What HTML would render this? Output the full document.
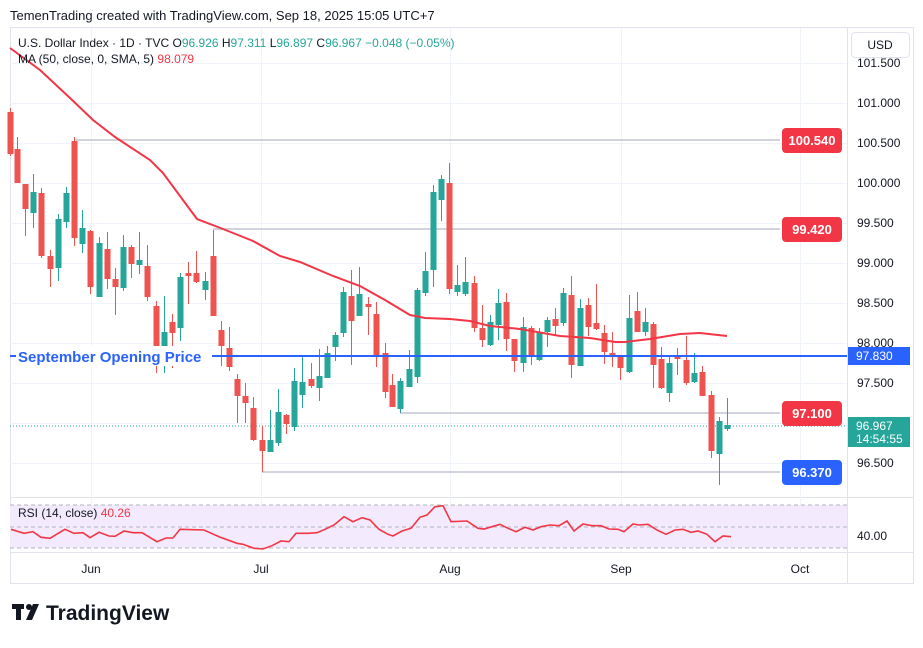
<!DOCTYPE html>
<html><head><meta charset="utf-8"><style>
body{margin:0;width:923px;height:643px;background:#fff;font-family:"Liberation Sans",sans-serif;overflow:hidden}
</style></head><body>
<svg id="s" width="923" height="643" xmlns="http://www.w3.org/2000/svg" font-family="Liberation Sans, sans-serif">
<rect x="0" y="0" width="923" height="643" fill="#fff"/>
<text x="10" y="20" font-size="13" fill="#131722">TemenTrading created with TradingView.com, Sep 18, 2025 15:05 UTC+7</text>
<rect x="10.5" y="27.5" width="903" height="556" fill="none" stroke="#e0e3eb"/>
<line x1="847.5" y1="27" x2="847.5" y2="583" stroke="#e0e3eb"/>
<line x1="10" y1="497.5" x2="913" y2="497.5" stroke="#e0e3eb"/>
<line x1="10" y1="552.5" x2="913" y2="552.5" stroke="#e0e3eb"/>
<g id="grid" stroke="#f0f3fa"></g>
<rect x="10" y="505" width="837" height="43" fill="#f3ebfd"/>
<g stroke="#b2b5be" stroke-dasharray="4,3"><line x1="10" y1="505" x2="847" y2="505"/><line x1="10" y1="527" x2="847" y2="527"/><line x1="10" y1="548" x2="847" y2="548"/></g>
<g stroke="#d1d4dc" stroke-width="2">
<line x1="74" y1="140" x2="780" y2="140"/><line x1="213" y1="229" x2="780" y2="229"/>
<line x1="400" y1="413" x2="780" y2="413"/><line x1="262" y1="472" x2="780" y2="472"/></g>
<line x1="10" y1="426" x2="847" y2="426" stroke="#26a69a" stroke-dasharray="1,2"/>
<g id="c"></g>
<polyline fill="none" stroke="#f23645" stroke-width="2" points="10,48 40,70 70,98 93,120 115,137 150,160 163,173 197,219 223,229 253,241 280,256 300,262 333,276 360,286 385,300 410,315 425,318 450,319 470,321 490,326 520,329 560,336 590,338 615,342 625,342 650,339 680,334 700,333 727,336"/>
<line x1="10" y1="356" x2="847" y2="356" stroke="#2962ff" stroke-width="2"/>
<rect x="16" y="346" width="196" height="20" fill="#fff"/>
<text x="18" y="362" font-size="15" font-weight="bold" fill="#2962ff">September Opening Price</text>
<polyline id="rsi" fill="none" stroke="#f23645" stroke-width="1.6"/>
<text x="18" y="47" font-size="12" fill="#131722">U.S. Dollar Index · 1D · TVC  <tspan>O</tspan><tspan fill="#26a69a">96.926</tspan>  H<tspan fill="#26a69a">97.311</tspan>  L<tspan fill="#26a69a">96.897</tspan>  C<tspan fill="#26a69a">96.967</tspan>  <tspan fill="#26a69a">−0.048 (−0.05%)</tspan></text>
<text x="18" y="63" font-size="12" fill="#131722">MA (50, close, 0, SMA, 5) <tspan fill="#f23645">98.079</tspan></text>
<text x="18" y="517" font-size="12" fill="#131722">RSI (14, close) <tspan fill="#f23645">40.26</tspan></text>
<g font-size="12" fill="#131722" id="px"></g>
<text x="857" y="540" font-size="12" fill="#131722">40.00</text>
<g font-size="12" fill="#131722" text-anchor="middle">
<text x="91" y="573">Jun</text><text x="261" y="573">Jul</text><text x="450" y="573">Aug</text><text x="621" y="573">Sep</text><text x="800" y="573">Oct</text></g>
<rect x="851.5" y="32.5" width="58" height="25" rx="4" fill="#fff" stroke="#e0e3eb"/>
<text x="880" y="49" font-size="12" text-anchor="middle" fill="#131722">USD</text>
<g font-size="13" font-weight="bold" fill="#fff" text-anchor="middle">
<rect x="782" y="128" width="60" height="25" rx="4" fill="#f23645"/><text x="812" y="145">100.540</text>
<rect x="782" y="217" width="60" height="25" rx="4" fill="#f23645"/><text x="812" y="234">99.420</text>
<rect x="782" y="401" width="60" height="25" rx="4" fill="#f23645"/><text x="812" y="418">97.100</text>
<rect x="782" y="460" width="60" height="25" rx="4" fill="#2962ff"/><text x="812" y="477">96.370</text></g>
<g font-size="12" fill="#fff">
<rect x="848" y="347" width="62" height="18" fill="#2962ff"/><text x="856" y="360">97.830</text>
<rect x="848" y="417" width="62" height="30" fill="#26a69a"/><text x="856" y="430">96.967</text><text x="856" y="443">14:54:55</text></g>
<g fill="#131722"><rect x="12" y="604" width="12" height="5"/><rect x="16" y="604" width="5" height="16"/><circle cx="29" cy="607" r="3"/><path d="M33 604 h6 l-7 16 h-6z"/></g>
<text x="46" y="620" font-size="21" font-weight="bold" fill="#131722">TradingView</text>
</svg>
<script>
var ns="http://www.w3.org/2000/svg",s=document.getElementById('s');
function el(p,t,a){var e=document.createElementNS(ns,t);for(var k in a)e.setAttribute(k,a[k]);p.appendChild(e);return e}
var g=document.getElementById('grid');
[63,103,143,183,223,263,303,343,383,423,463].forEach(function(y){el(g,'line',{x1:10,y1:y+.5,x2:847,y2:y+.5})});
[91,261,450,621,800].forEach(function(x){el(g,'line',{x1:x+.5,y1:28,x2:x+.5,y2:552})});
var px=document.getElementById('px');
[["101.500",63],["101.000",103],["100.500",143],["100.000",183],["99.500",223],["99.000",263],["98.500",303],["98.000",343],["97.500",383],["96.500",463]].forEach(function(a){var t=el(px,'text',{x:857,y:a[1]+4});t.textContent=a[0]});
var C=[[10,112,154,108,156,0],[17,149,183,137,183,0],[25,184,209,184,236,0],[33,213,192,174,228,1],[41,193,256,188,258,0],[50,256,269,250,287,0],[58,268,219,214,281,1],[66,222,193,187,228,1],[74,141,238,137,246,0],[82,244,228,210,253,1],[90,231,287,230,294,0],[99,297,243,237,297,1],[107,249,279,232,289,0],[115,279,287,268,315,0],[123,288,247,235,291,1],[131,247,264,245,278,0],[139,265,260,232,274,1],[147,266,297,245,301,0],[156,306,357,301,373,0],[164,359,332,296,373,1],[172,322,333,314,368,0],[180,328,277,273,341,1],[188,273,276,262,304,0],[196,273,282,251,283,0],[205,290,281,272,300,1],[213,256,316,230,316,0],[221,330,346,321,366,0],[229,348,367,327,371,0],[237,379,396,374,423,0],[245,396,403,383,423,0],[253,408,440,397,441,0],[262,440,451,426,472,0],[270,452,440,410,452,1],[278,443,412,389,446,1],[286,415,424,414,434,0],[294,427,381,368,431,1],[302,395,382,356,408,1],[311,379,386,363,388,0],[319,388,376,349,401,1],[327,378,353,346,378,1],[335,347,335,332,361,1],[343,333,292,287,337,1],[351,296,321,270,365,0],[359,316,294,267,316,1],[368,304,307,297,335,0],[376,314,356,302,367,0],[385,353,392,343,398,0],[392,385,407,374,407,0],[400,409,381,378,413,1],[409,387,369,350,387,1],[417,377,290,288,383,1],[425,293,271,252,296,1],[433,270,192,185,287,1],[441,200,179,175,221,1],[449,183,289,163,294,0],[457,292,285,265,296,1],[465,294,282,257,296,1],[474,283,328,276,332,0],[482,328,340,305,347,0],[490,345,322,315,346,1],[498,325,303,289,340,1],[506,302,339,293,351,0],[514,339,361,339,372,0],[523,363,327,317,372,1],[531,328,356,326,365,0],[539,360,332,328,361,1],[547,332,320,317,347,1],[555,319,326,308,336,0],[563,323,293,288,326,1],[571,295,365,276,378,0],[580,366,308,299,366,1],[588,305,327,298,336,0],[596,323,329,284,330,0],[604,333,352,325,364,0],[612,353,355,332,367,0],[620,356,368,356,380,0],[629,372,318,295,373,1],[637,311,332,292,332,0],[645,332,322,308,336,1],[653,324,365,322,388,0],[661,359,388,347,389,0],[669,393,363,357,402,1],[677,357,359,348,375,0],[686,360,383,336,385,0],[694,382,373,353,383,1],[702,372,396,366,396,0],[711,395,451,391,458,0],[719,454,421,417,485,1],[727,429,425,398,431,1]];
var cg=document.getElementById('c');
C.forEach(function(c){var col=c[5]?'#26a69a':'#ef5350';var t=Math.min(c[1],c[2]),b=Math.max(c[1],c[2]);
el(cg,'line',{x1:c[0]+.5,y1:c[3],x2:c[0]+.5,y2:c[4],stroke:col});
el(cg,'rect',{x:c[0]-2.5,y:t,width:6,height:Math.max(b-t,2),fill:col});});
var X=[11,24,33,41,50,65,74,83,90,99,109,115,124,133,142,157,166,173,180,204,219,237,243,254,263,272,281,289,296,308,317,325,334,344,353,362,370,379,388,393,402,411,420,427,435,443,451,467,478,484,492,500,508,516,525,533,541,550,559,567,574,583,592,601,609,618,624,633,639,648,657,666,675,683,691,698,707,715,723,731];
var Y=[103,115,110,127,130,103,115,113,128,112,123,124,108,113,113,140,129,129,103,105,125,145,148,160,162,152,138,140,115,115,113,103,90,65,80,68,75,103,118,123,108,100,67,60,35,32,80,78,100,102,95,88,100,110,97,105,95,90,92,78,108,87,92,92,102,103,110,87,90,88,105,118,105,103,112,108,118,140,123,125];
document.getElementById('rsi').setAttribute('points',X.map(function(x,i){return x+','+(495+Y[i]/3).toFixed(1)}).join(' '));
</script>
</body></html>
